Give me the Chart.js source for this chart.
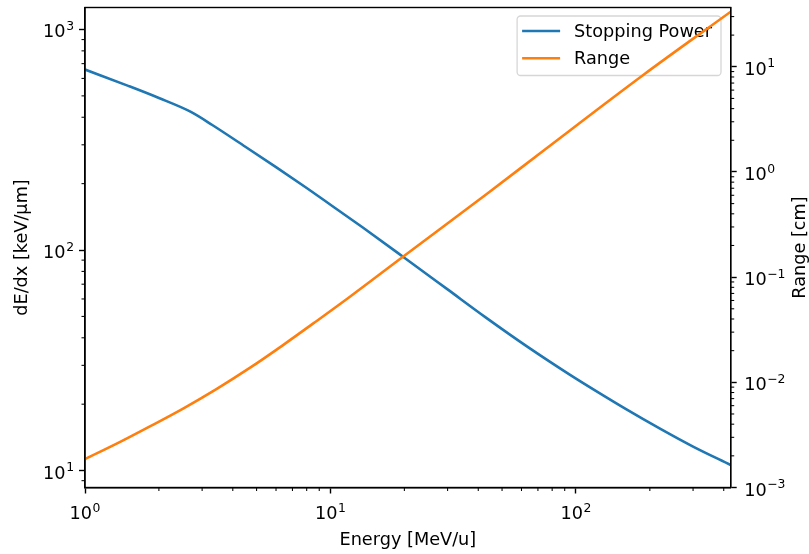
<!DOCTYPE html>
<html><head><meta charset="utf-8">
<script src="https://cdn.jsdelivr.net/npm/chart.js@4/dist/chart.umd.min.js"></script>
<style>html,body{margin:0;padding:0;background:#fff}#wrap{width:809px;height:554px}</style>
</head><body><div id="wrap"><canvas id="c" width="809" height="554"></canvas></div>
<script>
// ---- data ----
const spEnergy = [1, 1.5, 2, 2.7, 3.3, 4.5, 6, 8, 10, 13.5, 20, 30, 43, 64, 95, 120, 160, 220, 300, 427];
const stoppingPower = [658, 555, 489, 423, 369, 294, 237.5, 191, 160.5, 126.8, 92.3, 66.3, 49.4, 36.2, 27.1, 23.05, 19.0, 15.5, 12.85, 10.6];
const rangeEnergy = [1, 1.41, 1.83, 2.51, 3.43, 4.69, 6.41, 8.76, 12, 19.8, 43.3, 74.8, 188, 427];
const rangeCm = [0.00186, 0.00276, 0.00379, 0.00563, 0.00862, 0.0137, 0.0226, 0.0381, 0.0651, 0.157, 0.617, 1.636, 8.35, 33.4];
const xTicks = [1, 10, 100];
const spTicks = [10, 100, 1000];
const rangeTicks = [0.001, 0.01, 0.1, 1, 10];
const seriesNames = ['Stopping Power', 'Range'];
const xTitle = 'Energy [MeV/u]';
const spTitle = 'dE/dx [keV/μm]';
const rangeTitle = 'Range [cm]';

const FONT = 'DejaVu Sans';
const FS = 17.7;
const BLUE = '#1f77b4', ORANGE = '#ff7f0e';
function expOf(v){ return Math.round(Math.log10(v)); }
function minorValues(min, max){
  const out = [];
  for (let e = Math.floor(Math.log10(min)) - 1; e <= Math.ceil(Math.log10(max)); e++) {
    for (let m = 2; m <= 9; m++) {
      const v = m * Math.pow(10, e);
      if (v >= min * 0.9999 && v <= max * 1.0001) out.push(v);
    }
  }
  return out;
}
// draws "10" with a raised, smaller exponent (like matplotlib mathtext)
function drawPow10(ctx, v, x, baseline, align){
  const base = '10';
  const ex = String(expOf(v)).replace('-', '\u2212');
  const bigF = FS + 'px "' + FONT + '"';
  const smallF = (FS * 0.7) + 'px "' + FONT + '"';
  ctx.font = bigF; const wb = ctx.measureText(base).width;
  ctx.font = smallF; const we = ctx.measureText(ex).width;
  const total = wb + we + 0.5;
  let left = x;
  if (align === 'center') left = x - total / 2;
  else if (align === 'right') left = x - total;
  ctx.fillStyle = '#000';
  ctx.textAlign = 'left';
  ctx.textBaseline = 'alphabetic';
  ctx.font = bigF; ctx.fillText(base, left, baseline);
  ctx.font = smallF; ctx.fillText(ex, left + wb + 0.5, baseline - FS * 0.42);
}

const deco = {
  id: 'deco',
  afterDatasetDraw(chart, args) {
    if (args.index !== 0) return;
    // legend (drawn between the blue line and the orange twin-axis line)
    const ctx = chart.ctx, a = chart.chartArea;
    ctx.save();
    ctx.font = FS + 'px "' + FONT + '"';
    let tw = 0;
    seriesNames.forEach(n => tw = Math.max(tw, ctx.measureText(n).width));
    const padL = 5, handle = 38, gap = 14, padR = 9;
    const w = padL + handle + gap + tw + padR;
    const h = 59.5;
    const x0 = a.right - 9.7 - w, y0 = a.top + 8.5;
    ctx.beginPath();
    ctx.roundRect(x0, y0, w, h, 3.5);
    ctx.fillStyle = 'rgba(255,255,255,0.8)';
    ctx.fill();
    ctx.strokeStyle = 'rgba(204,204,204,0.8)';
    ctx.lineWidth = 1.3;
    ctx.stroke();
    const colors = [BLUE, ORANGE];
    seriesNames.forEach((n, i) => {
      const cy = y0 + 15 + i * 27.3;
      ctx.beginPath();
      ctx.moveTo(x0 + padL, cy);
      ctx.lineTo(x0 + padL + handle, cy);
      ctx.strokeStyle = colors[i];
      ctx.lineWidth = 2.6;
      ctx.stroke();
      ctx.fillStyle = '#000';
      ctx.textBaseline = 'middle';
      ctx.textAlign = 'left';
      ctx.fillText(n, x0 + padL + handle + gap, cy + 1);
    });
    ctx.restore();
  },
  afterDraw(chart) {
    const ctx = chart.ctx, a = chart.chartArea;
    ctx.save();
    ctx.strokeStyle = '#000';
    // frame
    ctx.lineWidth = 1.4;
    ctx.strokeRect(a.left, a.top, a.right - a.left, a.bottom - a.top);
    // minor ticks
    ctx.lineWidth = 1.05;
    const L = 3.5;
    const sx = chart.scales.x, sy = chart.scales.y, sy2 = chart.scales.y2;
    minorValues(sx.min, sx.max).forEach(v => {
      const p = sx.getPixelForValue(v);
      ctx.beginPath(); ctx.moveTo(p, a.bottom); ctx.lineTo(p, a.bottom + L); ctx.stroke();
    });
    minorValues(sy.min, sy.max).forEach(v => {
      const p = sy.getPixelForValue(v);
      ctx.beginPath(); ctx.moveTo(a.left, p); ctx.lineTo(a.left - L, p); ctx.stroke();
    });
    minorValues(sy2.min, sy2.max).forEach(v => {
      const p = sy2.getPixelForValue(v);
      ctx.beginPath(); ctx.moveTo(a.right, p); ctx.lineTo(a.right + L, p); ctx.stroke();
    });
    // tick labels
    xTicks.forEach(v => drawPow10(ctx, v, sx.getPixelForValue(v), a.bottom + 31.5, 'center'));
    spTicks.forEach(v => drawPow10(ctx, v, a.left - 11, sy.getPixelForValue(v) + 8, 'right'));
    rangeTicks.forEach(v => drawPow10(ctx, v, a.right + 13.5, sy2.getPixelForValue(v) + 8, 'left'));
    // right axis title (reads bottom-to-top like matplotlib)
    ctx.save();
    ctx.translate(800, (a.top + a.bottom) / 2);
    ctx.rotate(-Math.PI / 2);
    ctx.font = FS + 'px "' + FONT + '"';
    ctx.fillStyle = '#000';
    ctx.textAlign = 'center';
    ctx.textBaseline = 'middle';
    ctx.fillText(rangeTitle, 0, 0);
    ctx.restore();
    ctx.restore();
  }
};

const titleFont = {family: FONT, size: FS, lineHeight: 1};
const gridOpts = {drawOnChartArea: false, tickLength: 6, tickWidth: 1.4, tickColor: '#000'};
const borderOpts = {display: true, color: '#000', width: 1.4};
const hiddenTicks = {display: false, autoSkip: false};

new Chart(document.getElementById('c'), {
  type: 'line',
  data: {
    datasets: [
      {label: seriesNames[0], data: spEnergy.map((e, i) => ({x: e, y: stoppingPower[i]})),
       borderColor: BLUE, backgroundColor: BLUE, borderWidth: 2.6, pointRadius: 0,
       cubicInterpolationMode: 'monotone', yAxisID: 'y', order: 2},
      {label: seriesNames[1], data: rangeEnergy.map((e, i) => ({x: e, y: rangeCm[i]})),
       borderColor: ORANGE, backgroundColor: ORANGE, borderWidth: 2.6, pointRadius: 0,
       cubicInterpolationMode: 'monotone', yAxisID: 'y2', order: 1}
    ]
  },
  options: {
    responsive: false, animation: false, devicePixelRatio: 1,
    layout: {padding: {top: 7.5, left: 0, right: 0, bottom: 0}},
    plugins: {legend: {display: false}, tooltip: {enabled: false}},
    scales: {
      x: {
        type: 'logarithmic', position: 'bottom', min: 1, max: 427,
        afterBuildTicks: s => { s.ticks = xTicks.map(v => ({value: v})); },
        afterFit: s => { s.height = 66.5; s.paddingLeft = 0; s.paddingRight = 0; },
        ticks: hiddenTicks,
        grid: gridOpts, border: borderOpts,
        title: {display: true, text: xTitle, font: titleFont, color: '#000', padding: {top: 0, bottom: 5}}
      },
      y: {
        type: 'logarithmic', position: 'left', min: 8.38, max: 1258,
        afterBuildTicks: s => { s.ticks = spTicks.map(v => ({value: v})); },
        afterFit: s => { s.width = 85; s.paddingTop = 0; s.paddingBottom = 0; },
        ticks: hiddenTicks,
        grid: gridOpts, border: borderOpts,
        title: {display: true, text: spTitle, font: titleFont, color: '#000', padding: {top: 14, bottom: 0}}
      },
      y2: {
        type: 'logarithmic', position: 'right', min: 0.001, max: 36.6,
        afterBuildTicks: s => { s.ticks = rangeTicks.map(v => ({value: v})); },
        afterFit: s => { s.width = 78.3; s.paddingTop = 0; s.paddingBottom = 0; },
        ticks: hiddenTicks,
        grid: gridOpts, border: borderOpts,
        title: {display: false}
      }
    }
  },
  plugins: [deco]
});
</script>
</body></html>
